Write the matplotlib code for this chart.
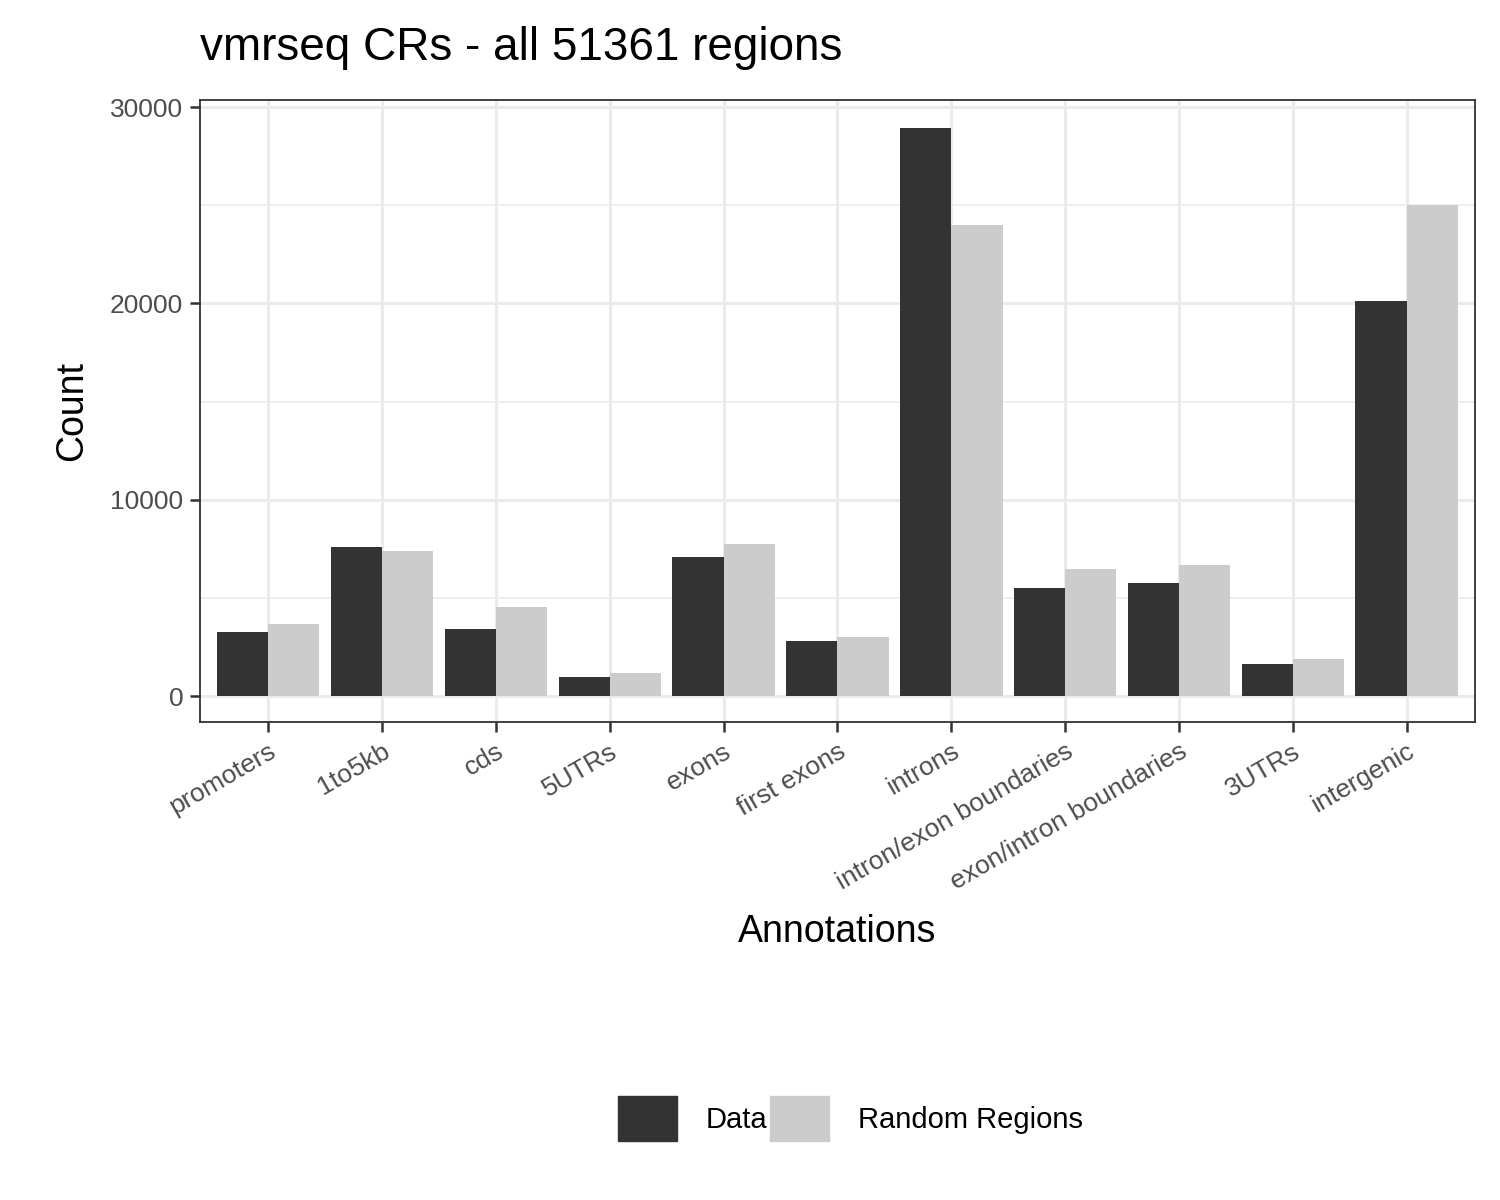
import matplotlib
matplotlib.use("Agg")
import matplotlib.pyplot as plt
import numpy as np
from matplotlib.patches import Patch

plt.rcParams['font.family'] = ['Liberation Sans', 'DejaVu Sans']

categories = ["promoters", "1to5kb", "cds", "5UTRs", "exons", "first exons", "introns",
              "intron/exon boundaries", "exon/intron boundaries", "3UTRs", "intergenic"]
data_counts = [3260, 7590, 3410, 970, 7080, 2800, 28930, 5500, 5760, 1630, 20120]
random_counts = [3670, 7390, 4530, 1170, 7740, 3010, 23990, 6470, 6670, 1880, 25010]

fig = plt.figure(figsize=(15, 12), dpi=100)
ax = fig.add_axes([0.1333, 0.398, 0.85, 0.5187])
x = np.arange(len(categories))
w = 0.45
ax.bar(x - w / 2, data_counts, w, color="#333333", zorder=3)
ax.bar(x + w / 2, random_counts, w, color="#cccccc", zorder=3)

ax.set_xlim(-0.6, len(categories) - 0.4)
ax.set_ylim(-1330, 30360)
ax.set_yticks([0, 10000, 20000, 30000])
ax.set_yticks([5000, 15000, 25000], minor=True)
ax.set_xticks(x)
ax.set_xticklabels(categories, rotation=30, ha="right", rotation_mode="anchor")
ax.grid(True, which="major", color="#ebebeb", lw=2.2, zorder=0)
ax.grid(True, which="minor", axis="y", color="#ebebeb", lw=1.1, zorder=0)
ax.tick_params(axis="both", which="major", labelsize=19, labelcolor="#4d4d4d",
               length=7, width=1.8, color="#333333", pad=5)
ax.tick_params(axis="y", which="minor", length=0)
for s in ax.spines.values():
    s.set_color("#333333")
    s.set_linewidth(1.3)

ax.set_xlabel("Annotations", fontsize=27, labelpad=14)
ax.set_ylabel("Count", fontsize=27, labelpad=14)
fig.text(0.133, 0.96, "vmrseq CRs - all 51361 regions", fontsize=33, va="center")

handles = [Patch(color="#333333", label="Data"), Patch(color="#cccccc", label="Random Regions")]
fig.legend(handles=handles, loc="center", bbox_to_anchor=(0.567, 0.068), ncol=2,
           frameon=False, fontsize=21, handlelength=2.0, handleheight=2.0,
           handletextpad=1.0, columnspacing=0.1)

fig.savefig("out.png", dpi=100)
